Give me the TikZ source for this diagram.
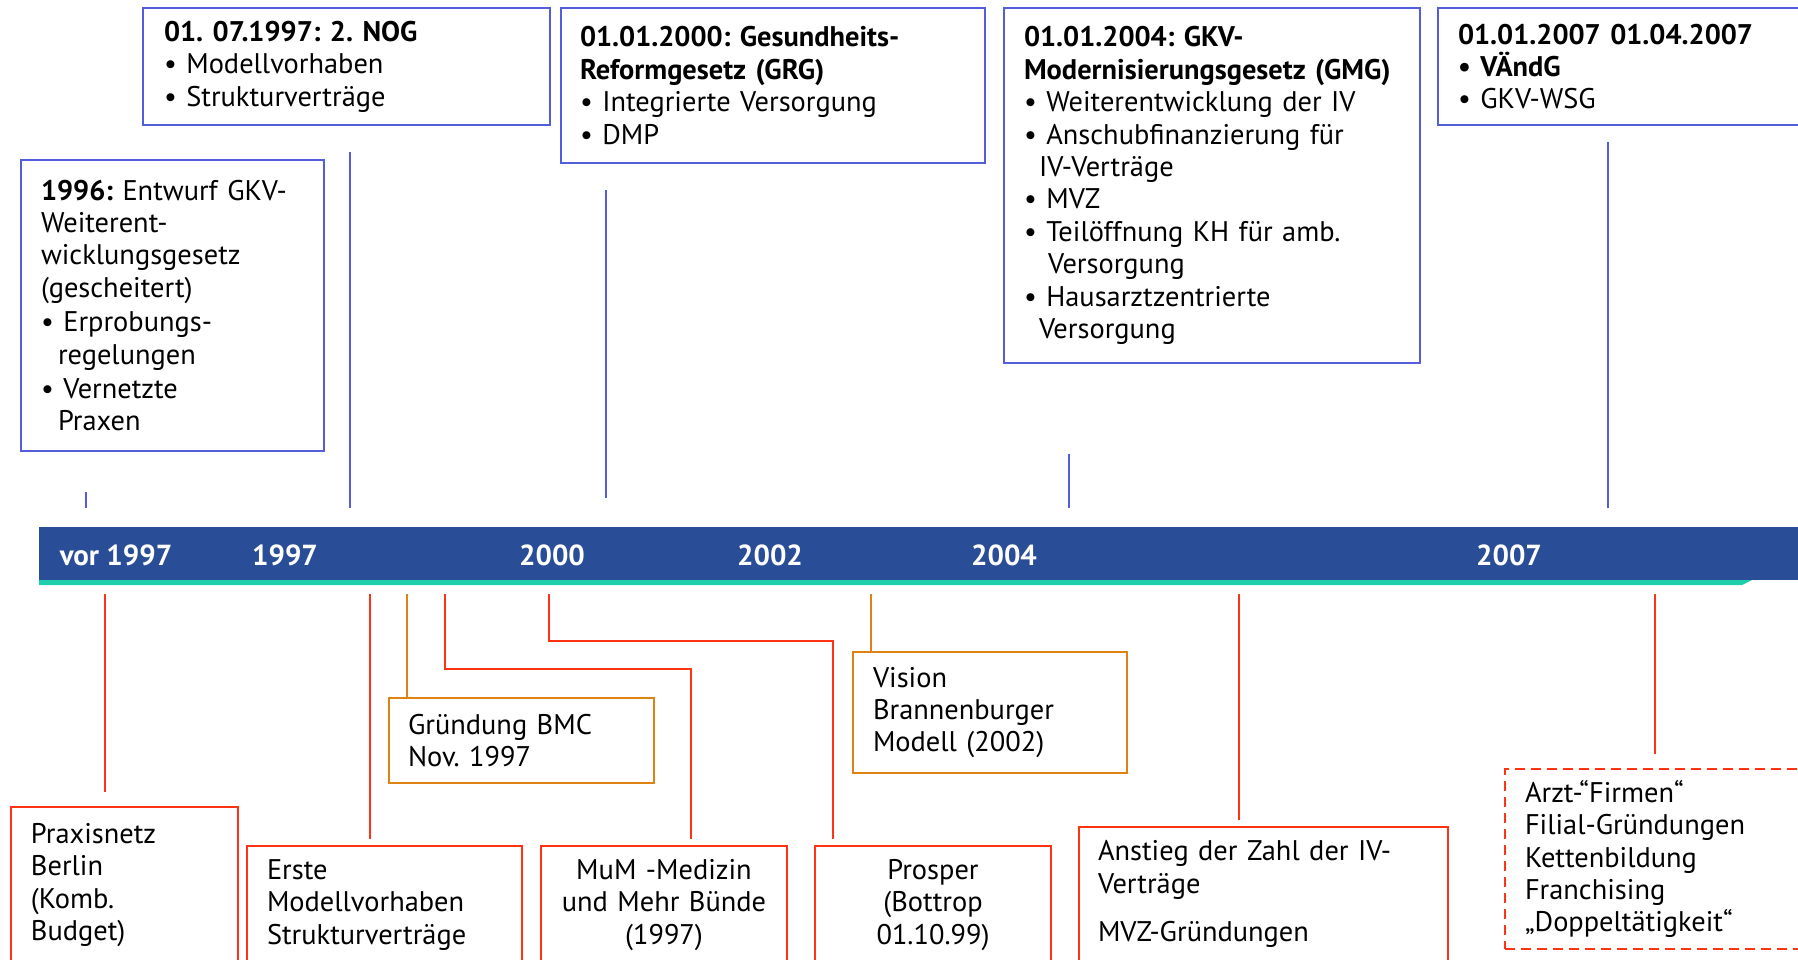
\documentclass[tikz,border=0pt]{standalone}
\usepackage{fontspec}
\setmainfont{PT Sans}
\usetikzlibrary{positioning}
\frenchspacing

\definecolor{lawblue}{RGB}{82,94,220}
\definecolor{barblue}{RGB}{42,77,152}
\definecolor{stripteal}{RGB}{30,205,170}
\definecolor{evred}{RGB}{255,51,17}
\definecolor{evorange}{RGB}{222,130,20}

\begin{document}
\begin{tikzpicture}[x=0.5pt, y=-0.5pt, font=\fontsize{14.2}{16.2}\selectfont]
    % Define styles
    \tikzstyle{law} = [rectangle, draw=lawblue, line width=1pt, anchor=north west, align=left, inner ysep=2pt]
    \tikzstyle{event} = [rectangle, draw=evred, line width=1pt, anchor=north west, align=left, inner ysep=2pt]
    \tikzstyle{eventc} = [event, align=center]
    \tikzstyle{idea} = [event, draw=evorange]
    \tikzstyle{trend} = [event, dash pattern=on 5pt off 3pt]
    \tikzstyle{year} = [text=white, font=\fontsize{14.5}{17}\selectfont\bfseries]
    \tikzstyle{upline} = [draw=lawblue, line width=1pt]
    \tikzstyle{downline} = [draw=evred, line width=1pt]
    \tikzstyle{idealine} = [draw=evorange, line width=1pt]

    \useasboundingbox (0,0) rectangle (1798,959);

    % Timeline bar
    \fill[barblue] (39,527) rectangle (1800,580);
    \fill[stripteal] (39,580) -- (1752,580) -- (1742,585) -- (39,585) -- cycle;
    \node (y0) [year] at (116,555) {vor 1997};
    \node (y1) [year] at (285,555) {1997};
    \node (y2) [year] at (552,555) {2000};
    \node (y3) [year] at (770,555) {2002};
    \node (y4) [year] at (1004,555) {2004};
    \node (y5) [year] at (1509,555) {2007};

    % Laws (above the bar)
    \node (b1996) [law, minimum width=151.5pt, minimum height=145.5pt, text width=131.5pt, inner xsep=10pt] at (20,159) {\textbf{1996:} Entwurf GKV-\\Weiterent-\\wicklungsgesetz\\(gescheitert)\\[1pt]• Erprobungs-\\\hspace*{8.5pt}regelungen\\[1pt]• Vernetzte\\\hspace*{8.5pt}Praxen};
    \node (nog) [law, minimum width=203.5pt, minimum height=58.5pt, text width=182.5pt, inner xsep=10.5pt] at (142,7) {\textbf{01. 07.1997: 2. NOG}\\• Modellvorhaben\\• Strukturverträge};
    \node (grg) [law, minimum width=212pt, minimum height=77.5pt, text width=193pt, inner xsep=9.5pt] at (560,7) {\textbf{01.01.2000: Gesundheits-}\\\textbf{Reformgesetz (GRG)}\\• Integrierte Versorgung\\• DMP};
    \node (gmg) [law, minimum width=208pt, minimum height=177.5pt, text width=188pt, inner xsep=10pt] at (1003,7) {\textbf{01.01.2004: GKV-}\\\textbf{Modernisierungsgesetz (GMG)}\\• Weiterentwicklung der IV\\• Anschubfinanzierung für\\\hspace*{7.5pt}IV-Verträge\\• MVZ\\• Teilöffnung KH für amb.\\\hspace*{12pt}Versorgung\\• Hausarztzentrierte\\\hspace*{7.5pt}Versorgung};
    \node (b2007) [law, minimum width=186.5pt, minimum height=58.5pt, text width=166.5pt, inner xsep=10pt] at (1437,7) {\textbf{01.01.2007 01.04.2007}\\\textbf{• VÄndG}\\• GKV-WSG};

    % Events (below the bar)
    \node (praxis) [event, minimum width=113.5pt, minimum height=78pt, text width=93.5pt, inner xsep=10pt] at (10,806) {Praxisnetz\\Berlin\\(Komb.\\Budget)};
    \node (erste) [event, minimum width=137.5pt, minimum height=59pt, text width=117.5pt, inner xsep=10pt] at (246,845) {Erste\\Modellvorhaben\\Strukturverträge};
    \node (gruendung) [idea, minimum width=132.5pt, minimum height=42.5pt, text width=113.5pt, inner xsep=9.5pt] at (388,697) {Gründung BMC\\Nov. 1997};
    \node (mum) [eventc, minimum width=123pt, minimum height=59pt, text width=103pt, inner xsep=10pt] at (540,845) {MuM -Medizin\\und Mehr Bünde\\(1997)};
    \node (prosper) [eventc, minimum width=118pt, minimum height=59pt, text width=98pt, inner xsep=10pt] at (814,845) {Prosper\\(Bottrop\\01.10.99)};
    \node (vision) [idea, minimum width=137pt, minimum height=60.5pt, text width=117pt, inner xsep=10pt] at (852,651) {Vision\\Brannenburger\\Modell (2002)};
    \node (anstieg) [event, minimum width=184.5pt, minimum height=67pt, text width=165.5pt, inner xsep=9.5pt] at (1078,826) {Anstieg der Zahl der IV-\\Verträge\\[8pt]MVZ-Gründungen};
    \node (firmen) [trend, minimum width=160pt, minimum height=90pt, text width=140pt, inner xsep=10pt] at (1504,768) {Arzt-“Firmen“\\Filial-Gründungen\\Kettenbildung\\Franchising\\„Doppeltätigkeit“};

    % Connectors
    \coordinate (k0) at (86,508);
    \coordinate (k1) at (350,508);
    \coordinate (k2) at (606,498);
    \coordinate (k3) at (1069,508);
    \coordinate (k4) at (1608,508);
    \draw [upline, shorten >=20pt] (k0) -- (k0 |- b1996.south);
    \draw [upline, shorten >=13pt] (k1) -- (k1 |- nog.south);
    \draw [upline, shorten >=13pt] (k2) -- (k2 |- grg.south);
    \draw [upline, shorten >=45pt] (k3) -- (k3 |- gmg.south);
    \draw [upline, shorten >=8pt] (k4) -- (k4 |- b2007.south);

    \coordinate (d0) at (105,594);
    \coordinate (d1) at (370,594);
    \coordinate (d2) at (407,594);
    \coordinate (d3) at (445,594);
    \coordinate (d4) at (549,594);
    \coordinate (d5) at (871,594);
    \coordinate (d6) at (1239,594);
    \coordinate (d7) at (1655,594);
    \coordinate (m1) at (691,669);
    \coordinate (m2) at (833,641);
    \draw [downline, shorten >=7pt] (d0) -- (d0 |- praxis.north);
    \draw [downline, shorten >=3pt] (d1) -- (d1 |- erste.north);
    \draw [idealine] (d2) -- (d2 |- gruendung.north);
    \draw [downline, shorten >=3pt] (d3) |- (m1) -- (m1 |- mum.north);
    \draw [downline, shorten >=3pt] (d4) |- (m2) -- (m2 |- prosper.north);
    \draw [idealine] (d5) -- (d5 |- vision.north);
    \draw [downline, shorten >=3pt] (d6) -- (d6 |- anstieg.north);
    \draw [downline, shorten >=7pt] (d7) -- (d7 |- firmen.north);
\end{tikzpicture}
\end{document}
